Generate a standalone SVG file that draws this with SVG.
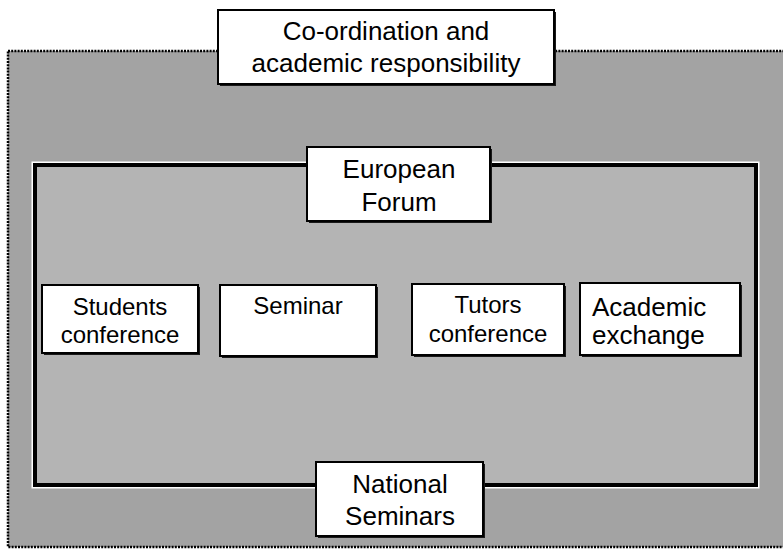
<svg xmlns="http://www.w3.org/2000/svg" width="783" height="550" viewBox="0 0 783 550">
  <style>
    .box { fill: #ffffff; stroke: #000000; stroke-width: 2; }
    .shadow { fill: #1a1a1a; }
    .lbl { font-family: "Liberation Sans", Arial, sans-serif; fill: #000000; }
    .lg { font-size: 26px; }
    .md { font-size: 24px; }
  </style>

  <rect x="0" y="0" width="783" height="550" fill="#ffffff"/>

  <!-- outer shaded field with dotted border -->
  <g id="outer-field">
    <rect x="8" y="51" width="790" height="496" fill="#a3a3a3" stroke="#000000" stroke-width="2.5" stroke-dasharray="2 1.2"/>
  </g>

  <!-- inner framed area -->
  <g id="inner-frame">
    <rect x="35" y="165" width="721" height="320" fill="#b4b4b4" stroke="#ffffff" stroke-width="7"/>
    <rect x="35" y="165" width="721" height="320" fill="#b4b4b4" stroke="#000000" stroke-width="4"/>
  </g>

  <g id="connectors"></g>

  <g id="coordination">
    <rect class="shadow" x="220" y="12" width="336" height="74"/>
    <rect class="box" x="218" y="10" width="336" height="74"/>
    <text class="lbl lg" x="386" y="40" text-anchor="middle">Co-ordination and</text>
    <text class="lbl lg" x="386" y="72" text-anchor="middle">academic responsibility</text>
  </g>

  <g id="european-forum">
    <rect class="shadow" x="309" y="149" width="183" height="74"/>
    <rect class="box" x="307" y="147" width="183" height="74"/>
    <text class="lbl lg" x="399" y="178" text-anchor="middle">European</text>
    <text class="lbl lg" x="399" y="211" text-anchor="middle">Forum</text>
  </g>

  <g id="students-conference">
    <rect class="shadow" x="44" y="287" width="156" height="68"/>
    <rect class="box" x="42" y="285" width="156" height="68"/>
    <text class="lbl md" x="120" y="315" text-anchor="middle">Students</text>
    <text class="lbl md" x="120" y="343" text-anchor="middle">conference</text>
  </g>

  <g id="seminar">
    <rect class="shadow" x="222" y="287" width="156" height="71"/>
    <rect class="box" x="220" y="285" width="156" height="71"/>
    <text class="lbl md" x="298" y="314" text-anchor="middle">Seminar</text>
  </g>

  <g id="tutors-conference">
    <rect class="shadow" x="414" y="286" width="152" height="71"/>
    <rect class="box" x="412" y="284" width="152" height="71"/>
    <text class="lbl md" x="488" y="313" text-anchor="middle">Tutors</text>
    <text class="lbl md" x="488" y="342" text-anchor="middle">conference</text>
  </g>

  <g id="academic-exchange">
    <rect class="shadow" x="582" y="285" width="160" height="72"/>
    <rect class="box" x="580" y="283" width="160" height="72"/>
    <text class="lbl lg" x="592" y="316">Academic</text>
    <text class="lbl lg" x="592" y="344">exchange</text>
  </g>

  <g id="national-seminars">
    <rect class="shadow" x="318" y="464" width="167" height="74"/>
    <rect class="box" x="316" y="462" width="167" height="74"/>
    <text class="lbl lg" x="400" y="493" text-anchor="middle">National</text>
    <text class="lbl lg" x="400" y="525" text-anchor="middle">Seminars</text>
  </g>
</svg>
